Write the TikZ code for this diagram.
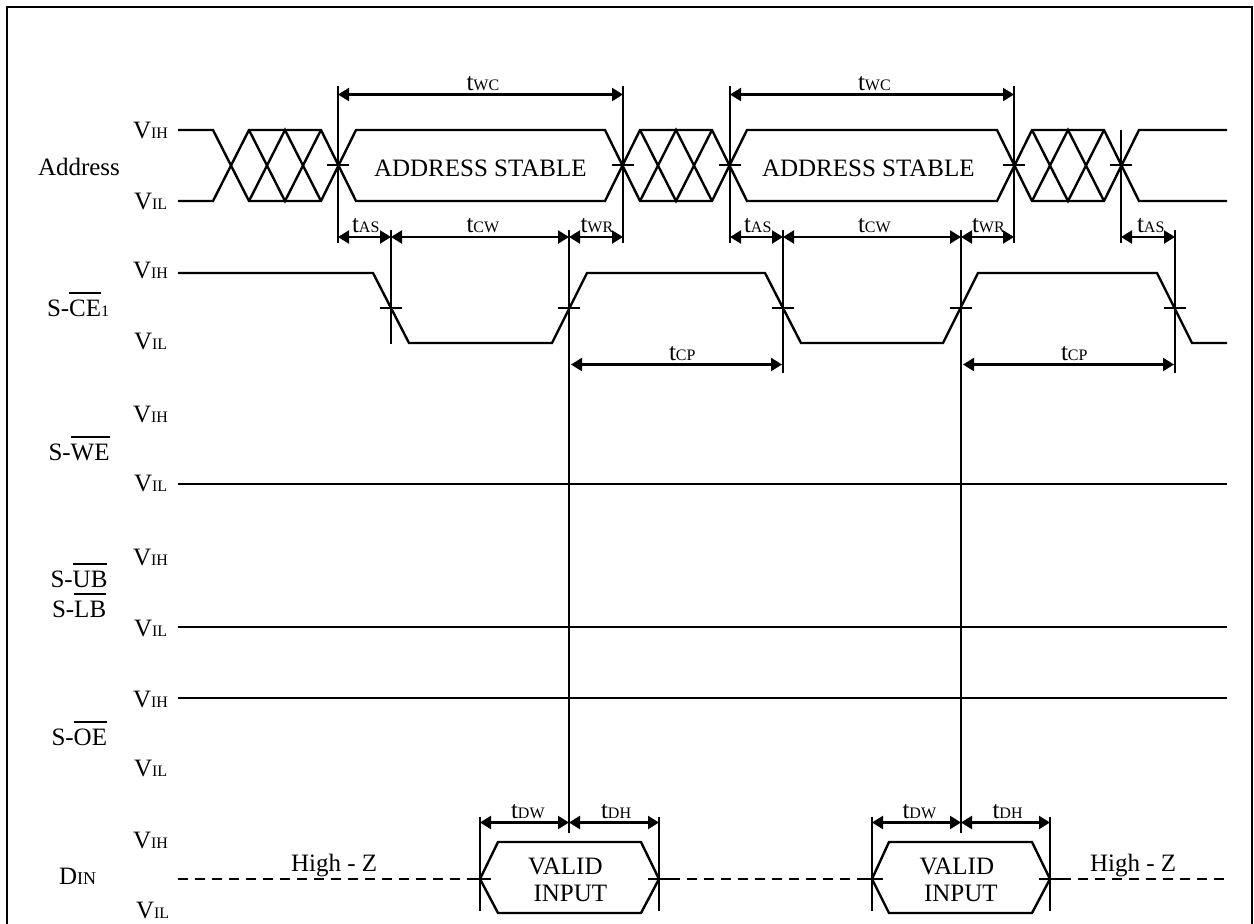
\documentclass[tikz,border=0pt]{standalone}
\usepackage{fontspec}
\setmainfont{Liberation Serif}
\usetikzlibrary{arrows.meta}
\newcommand{\lblsize}{\fontsize{25}{25}\selectfont}
\newcommand{\sml}{\fontsize{16}{16}\selectfont}
\newsavebox{\ovlbox}
\newcommand{\ovl}[1]{\sbox{\ovlbox}{#1}\rlap{\rule[22pt]{\wd\ovlbox}{2pt}}\usebox{\ovlbox}}
\newcommand{\vsig}[1]{V{\sml #1}}
\newcommand{\tsig}[1]{t{\sml #1}}
\tikzset{
  sig/.style={line width=2.4pt,line join=miter,line cap=butt},
  guide/.style={line width=2.2pt},
  span/.style={line width=2.2pt,{Triangle[length=11pt,width=13pt]}-{Triangle[length=11pt,width=13pt]}},
  lbl/.style={anchor=base west,inner sep=0pt,outer sep=0pt,font=\lblsize},
  hz/.style={line width=2.4pt,dash pattern=on 10pt off 7pt}
}
\begin{document}
\begin{tikzpicture}[x=1pt,y=-1pt]
\useasboundingbox (0,0) rectangle (1254,924);
\draw[line width=2.4pt] (7,924) -- (7,7) -- (1252,7) -- (1252,924);

% ---- Address
\draw[sig] (178,130) -- (213,130) -- (249,201) -- (321,201) -- (356,130) -- (605,130) -- (640,201) -- (712,201) -- (747,130) -- (997,130) -- (1032,201) -- (1104,201) -- (1139,130) -- (1227,130);
\draw[sig] (178,201) -- (213,201) -- (249,130) -- (321,130) -- (356,201) -- (605,201) -- (640,130) -- (712,130) -- (747,201) -- (997,201) -- (1032,130) -- (1104,130) -- (1139,201) -- (1227,201);
\foreach \a in {249,640,1032}{
  \draw[sig] (\a,130) -- (\a+36,201) -- (\a+72,130);
  \draw[sig] (\a,201) -- (\a+36,130) -- (\a+72,201);
}
% ---- S-CE1
\draw[sig] (178,273) -- (373,273) -- (409,343) -- (552,343) -- (587,273) -- (765,273) -- (801,343) -- (943,343) -- (978,273) -- (1157,273) -- (1192,343) -- (1227,343);
% ---- static levels
\draw[sig] (178,484) -- (1227,484);
\draw[sig] (178,627) -- (1227,627);
\draw[sig] (178,698) -- (1227,698);
% ---- DIN
\draw[hz] (178,879) -- (480,879);
\draw[hz] (670,879) -- (872,879);
\draw[hz] (1061,879) -- (1227,879);
\draw[sig] (480,879) -- (498,842) -- (641,842) -- (659,879) -- (641,913) -- (498,913) -- cycle;
\draw[sig] (872,879) -- (889,842) -- (1032,842) -- (1050,879) -- (1032,913) -- (889,913) -- cycle;

% ---- guides
\foreach \x in {338,623,730,1014}{
  \draw[guide] (\x,86) -- (\x,243);
  \draw[guide] (\x-11,165) -- (\x+11,165);
}
\draw[guide] (1121,130) -- (1121,243);
\draw[guide] (1110,165) -- (1132,165);
\draw[guide] (391,230) -- (391,344);
\draw[guide] (569,230) -- (569,833);
\draw[guide] (783,230) -- (783,373);
\draw[guide] (961,230) -- (961,833);
\draw[guide] (1175,230) -- (1175,373);
\foreach \x in {391,569,783,961,1175}
  \draw[guide] (\x-11,308) -- (\x+11,308);
\foreach \x in {480,659,872,1050}{
  \draw[guide] (\x,817) -- (\x,911);
  \draw[guide] (\x-11,879) -- (\x+11,879);
}

% ---- spans
\draw[span] (338,94.5) -- (623,94.5);
\draw[span] (730,94.5) -- (1014,94.5);
\draw[span] (338,237) -- (391,237);
\draw[span] (391,237) -- (569,237);
\draw[span] (569,237) -- (623,237);
\draw[span] (730,237) -- (783,237);
\draw[span] (783,237) -- (961,237);
\draw[span] (961,237) -- (1014,237);
\draw[span] (1121,237) -- (1175,237);
\draw[span] (571,364.5) -- (782,364.5);
\draw[span] (963,364.5) -- (1174,364.5);
\draw[span] (480,822.5) -- (569,822.5);
\draw[span] (569,822.5) -- (659,822.5);
\draw[span] (872,822.5) -- (961,822.5);
\draw[span] (961,822.5) -- (1050,822.5);

% ---- signal names
\node[lbl] (nAddr) at (38,175) {Address};
\node[lbl] (nCE) at (47,316) {S-\ovl{CE}{\sml 1}};
\node[lbl] (nWE) at (48.5,460) {S-\ovl{WE}};
\node[lbl] (nUB) at (50.5,587) {S-\ovl{UB}};
\node[lbl] (nLB) at (52,617) {S-\ovl{LB}};
\node[lbl] (nOE) at (51.5,745) {S-\ovl{OE}};
\node[lbl] (nDIN) at (59,884) {D{\fontsize{18}{18}\selectfont IN}};

% ---- levels
\node[lbl] (a1) at (133,138.5) {\vsig{IH}};
\node[lbl] (a2) at (134,209.5) {\vsig{IL}};
\node[lbl] (b1) at (133,278.5) {\vsig{IH}};
\node[lbl] (b2) at (134,349.5) {\vsig{IL}};
\node[lbl] (c1) at (133,422.5) {\vsig{IH}};
\node[lbl] (c2) at (134,491.5) {\vsig{IL}};
\node[lbl] (d1) at (133,565) {\vsig{IH}};
\node[lbl] (d2) at (134,636.5) {\vsig{IL}};
\node[lbl] (e1) at (133,707) {\vsig{IH}};
\node[lbl] (e2) at (134,776.5) {\vsig{IL}};
\node[lbl] (f1) at (133,848) {\vsig{IH}};
\node[lbl] (f2) at (136,918) {\vsig{IL}};

% ---- timing labels
\node[lbl] (wc1) at (466.5,90.5) {\tsig{WC}};
\node[lbl] (wc2) at (858,90.5) {\tsig{WC}};
\node[lbl] (as1) at (352,232) {\tsig{AS}};
\node[lbl] (cw1) at (466.5,232) {\tsig{CW}};
\node[lbl] (wr1) at (580.5,232) {\tsig{WR}};
\node[lbl] (as2) at (744,232) {\tsig{AS}};
\node[lbl] (cw2) at (858,232) {\tsig{CW}};
\node[lbl] (wr2) at (972,232) {\tsig{WR}};
\node[lbl] (as3) at (1137,232) {\tsig{AS}};
\node[lbl] (cp1) at (669,360) {\tsig{CP}};
\node[lbl] (cp2) at (1061,360) {\tsig{CP}};
\node[lbl] (dw1) at (511,818) {\tsig{DW}};
\node[lbl] (dh1) at (601,818) {\tsig{DH}};
\node[lbl] (dw2) at (902.5,818) {\tsig{DW}};
\node[lbl] (dh2) at (992.5,818) {\tsig{DH}};

% ---- inner text
\node[lbl] (st1) at (374,176.5) {ADDRESS STABLE};
\node[lbl] (st2) at (762,176.5) {ADDRESS STABLE};
\node[lbl] (v1) at (528,874.5) {VALID};
\node[lbl] (i1) at (533.5,901.5) {INPUT};
\node[lbl] (v2) at (919.5,874.5) {VALID};
\node[lbl] (i2) at (924,901.5) {INPUT};
\node[lbl] (hz1) at (291,871.5) {High - Z};
\node[lbl] (hz2) at (1090,871.5) {High - Z};
\end{tikzpicture}
\end{document}
